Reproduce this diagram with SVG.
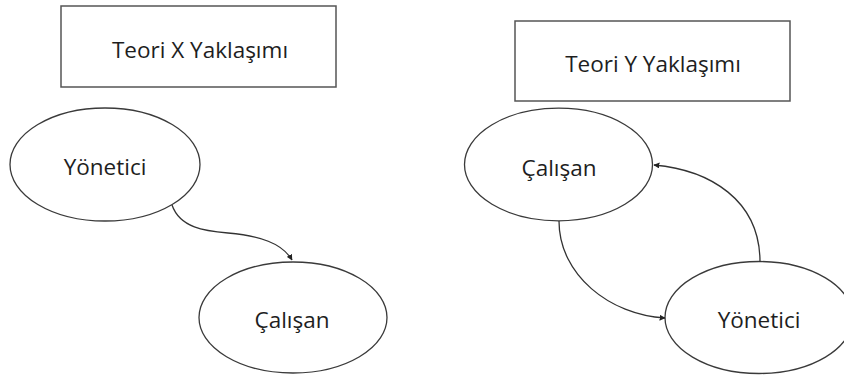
<svg xmlns="http://www.w3.org/2000/svg" width="844" height="378" viewBox="0 0 844 378">
<style>
.box{fill:#fff;stroke:#555;stroke-width:1.5}
.node{fill:#fff;stroke:#3a3a3a;stroke-width:1.3}
.lbl{font-family:"Open Sans","DejaVu Sans",sans-serif;font-size:22.5px;font-weight:500;fill:#1e1e1e;text-anchor:middle}
.edge{fill:none;stroke:#333;stroke-width:1.3;marker-end:url(#ah)}
</style>
<defs>
<marker id="ah" viewBox="0 0 10 10" refX="9" refY="5" markerWidth="6" markerHeight="6" markerUnits="userSpaceOnUse" orient="auto">
<path d="M0,0 L10,5 L0,10 z" fill="#222"/>
</marker>
</defs>
<rect width="844" height="378" fill="#fff"/>
<g id="titleX"><rect class="box" x="61" y="6" width="275" height="81"/><text class="lbl" x="200" y="58">Teori X Yaklaşımı</text></g>
<g id="titleY"><rect class="box" x="515" y="21" width="275" height="80"/><text class="lbl" x="653" y="72">Teori Y Yaklaşımı</text></g>
<g id="x_yonetici"><ellipse class="node" cx="105" cy="164.5" rx="95" ry="56.5"/><text class="lbl" x="105" y="175">Yönetici</text></g>
<g id="x_calisan"><ellipse class="node" cx="293" cy="317.5" rx="94" ry="55.5"/><text class="lbl" x="292" y="328">Çalışan</text></g>
<g id="y_calisan"><ellipse class="node" cx="558.5" cy="164.5" rx="94" ry="56.3"/><text class="lbl" x="559" y="176">Çalışan</text></g>
<g id="y_yonetici"><ellipse class="node" cx="759" cy="317.5" rx="94" ry="56"/><text class="lbl" x="759" y="328">Yönetici</text></g>
<g id="connectors">
<path class="edge" d="M172,205 C180,228 205,231 228,233 C260,236 282,243 292,260"/>
<path class="edge" d="M559,221 C559,275 610,315 665,318"/>
<path class="edge" d="M760,262 C760,200 710,170 654,165"/>
</g>
</svg>
